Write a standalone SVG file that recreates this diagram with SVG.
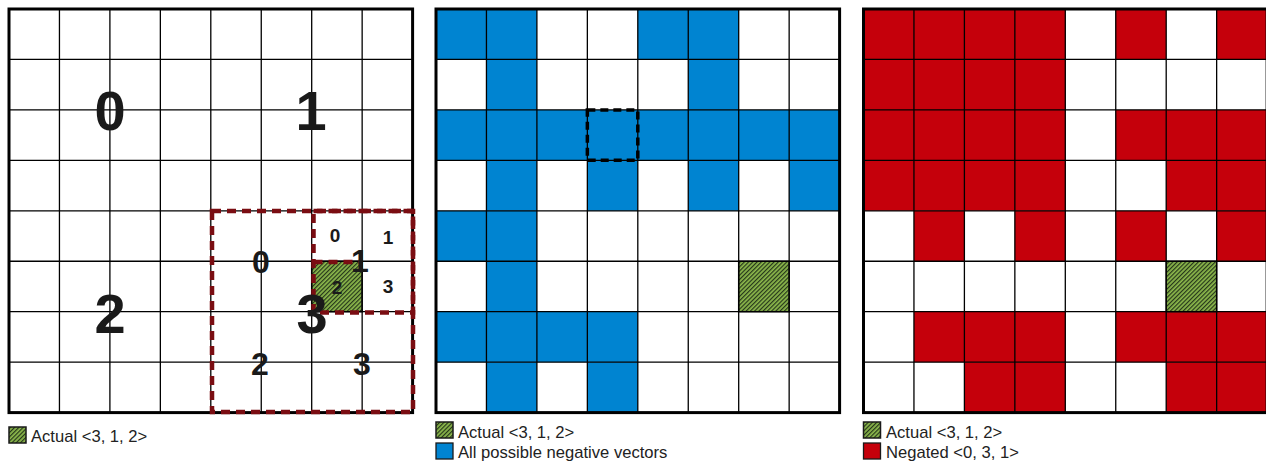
<svg xmlns="http://www.w3.org/2000/svg" width="1266" height="462" viewBox="0 0 1266 462">
<style>
.bg{fill:#ffffff}
.blue{fill:#0084d1}
.red{fill:#c5000b}
.act{fill:url(#hatch);stroke:#1a1a1a;stroke-width:1.5}
.grid{fill:none;stroke:#000;stroke-width:1.3}
.border{fill:none;stroke:#000;stroke-width:3}
.rdash{fill:none;stroke:#7a0d12;stroke-width:4.5;stroke-dasharray:9 6}
.kdash{fill:none;stroke:#000;stroke-width:3.5;stroke-dasharray:8 5}
.big{font-family:"Liberation Sans",Arial,sans-serif;font-weight:bold;font-size:56px;fill:#1a1a1a;text-anchor:middle}
.mid{font-family:"Liberation Sans",Arial,sans-serif;font-weight:bold;font-size:32px;fill:#1a1a1a;text-anchor:middle}
.sml{font-family:"Liberation Sans",Arial,sans-serif;font-weight:bold;font-size:19px;fill:#1a1a1a;text-anchor:middle}
.leg{font-family:"Liberation Sans",Arial,sans-serif;font-size:16.6px;fill:#222}
.sw{stroke:#1a1a1a;stroke-width:1.3}
</style>
<defs>
<pattern id="hatch" width="3" height="3" patternUnits="userSpaceOnUse" patternTransform="rotate(45)">
<rect width="3" height="3" fill="#8cb84c"/>
<line x1="0.6" y1="0" x2="0.6" y2="3" stroke="#25351a" stroke-width="1.2"/>
</pattern>
</defs>
<rect class="bg" width="1266" height="462"/>

<g id="panel-actual">
<rect class="act" x="311.7" y="261.25" width="50.45" height="50.45"/>
<path class="grid" d="M59.45 9V412.6M109.9 9V412.6M160.35 9V412.6M210.8 9V412.6M261.25 9V412.6M311.7 9V412.6M362.15 9V412.6M9 59.45H412.6M9 109.9H412.6M9 160.35H412.6M9 210.8H412.6M9 261.25H412.6M9 311.7H412.6M9 362.15H412.6"/>
<rect class="border" x="9" y="9" width="403.6" height="403.6"/>
<rect class="rdash" x="212" y="211" width="201" height="201"/>
<rect class="rdash" x="313.5" y="211" width="99.5" height="101.5"/>
<path class="rdash" d="M313.5 262H362"/>
<text class="big" x="110" y="130">0</text>
<text class="big" x="311" y="130">1</text>
<text class="big" x="110" y="333">2</text>
<text class="mid" x="261" y="273">0</text>
<text class="mid" x="360" y="272">1</text>
<text class="mid" x="260" y="375">2</text>
<text class="mid" x="362" y="375">3</text>
<text class="sml" x="335" y="242">0</text>
<text class="sml" x="388" y="244">1</text>
<text class="sml" x="337" y="294">2</text>
<text class="sml" x="388" y="293">3</text>
<text class="big" x="312" y="333">3</text>
</g>
<g id="legend-actual">
<rect class="act" x="9" y="427" width="17" height="16"/>
<text class="leg" x="31" y="442">Actual &lt;3, 1, 2&gt;</text>
</g>

<g id="panel-negatives">
<rect class="blue" x="436" y="9" width="100.9" height="50.45"/>
<rect class="blue" x="637.8" y="9" width="100.9" height="50.45"/>
<rect class="blue" x="486.45" y="59.45" width="50.45" height="50.45"/>
<rect class="blue" x="688.25" y="59.45" width="50.45" height="50.45"/>
<rect class="blue" x="436" y="109.9" width="403.6" height="50.45"/>
<rect class="blue" x="486.45" y="160.35" width="50.45" height="50.45"/>
<rect class="blue" x="587.35" y="160.35" width="50.45" height="50.45"/>
<rect class="blue" x="688.25" y="160.35" width="50.45" height="50.45"/>
<rect class="blue" x="789.15" y="160.35" width="50.45" height="50.45"/>
<rect class="blue" x="436" y="210.8" width="100.9" height="50.45"/>
<rect class="blue" x="486.45" y="261.25" width="50.45" height="50.45"/>
<rect class="blue" x="436" y="311.7" width="201.8" height="50.45"/>
<rect class="blue" x="486.45" y="362.15" width="50.45" height="50.45"/>
<rect class="blue" x="587.35" y="362.15" width="50.45" height="50.45"/>
<rect class="act" x="738.7" y="261.25" width="50.45" height="50.45"/>
<path class="grid" d="M486.45 9V412.6M536.9 9V412.6M587.35 9V412.6M637.8 9V412.6M688.25 9V412.6M738.7 9V412.6M789.15 9V412.6M436 59.45H839.6M436 109.9H839.6M436 160.35H839.6M436 210.8H839.6M436 261.25H839.6M436 311.7H839.6M436 362.15H839.6"/>
<rect class="border" x="436" y="9" width="403.6" height="403.6"/>
<rect class="kdash" x="587.35" y="109.9" width="50.45" height="50.45"/>
</g>
<g id="legend-negatives">
<rect class="act" x="436" y="422" width="17" height="16"/>
<text class="leg" x="458" y="438">Actual &lt;3, 1, 2&gt;</text>
<rect class="blue sw" x="436" y="443" width="17" height="16"/>
<text class="leg" x="458" y="458">All possible negative vectors</text>
</g>

<g id="panel-negated">
<rect class="red" x="863.5" y="9" width="201.8" height="201.8"/>
<rect class="red" x="1115.75" y="9" width="50.45" height="50.45"/>
<rect class="red" x="1216.65" y="9" width="50.45" height="50.45"/>
<rect class="red" x="1115.75" y="109.9" width="151.35" height="50.45"/>
<rect class="red" x="1166.2" y="160.35" width="100.9" height="50.45"/>
<rect class="red" x="913.95" y="210.8" width="50.45" height="50.45"/>
<rect class="red" x="1014.85" y="210.8" width="50.45" height="50.45"/>
<rect class="red" x="1115.75" y="210.8" width="50.45" height="50.45"/>
<rect class="red" x="1216.65" y="210.8" width="50.45" height="50.45"/>
<rect class="red" x="913.95" y="311.7" width="151.35" height="50.45"/>
<rect class="red" x="1115.75" y="311.7" width="151.35" height="50.45"/>
<rect class="red" x="964.4" y="362.15" width="100.9" height="50.45"/>
<rect class="red" x="1166.2" y="362.15" width="100.9" height="50.45"/>
<rect class="act" x="1166.2" y="261.25" width="50.45" height="50.45"/>
<path class="grid" d="M913.95 9V412.6M964.4 9V412.6M1014.85 9V412.6M1065.3 9V412.6M1115.75 9V412.6M1166.2 9V412.6M1216.65 9V412.6M863.5 59.45H1267.1M863.5 109.9H1267.1M863.5 160.35H1267.1M863.5 210.8H1267.1M863.5 261.25H1267.1M863.5 311.7H1267.1M863.5 362.15H1267.1"/>
<rect class="border" x="863.5" y="9" width="403.6" height="403.6"/>
</g>
<g id="legend-negated">
<rect class="act" x="863.5" y="422" width="17" height="16"/>
<text class="leg" x="886" y="438">Actual &lt;3, 1, 2&gt;</text>
<rect class="red sw" x="863.5" y="443" width="17" height="16"/>
<text class="leg" x="886" y="458">Negated &lt;0, 3, 1&gt;</text>
</g>
<g id="connectors"/>
</svg>
